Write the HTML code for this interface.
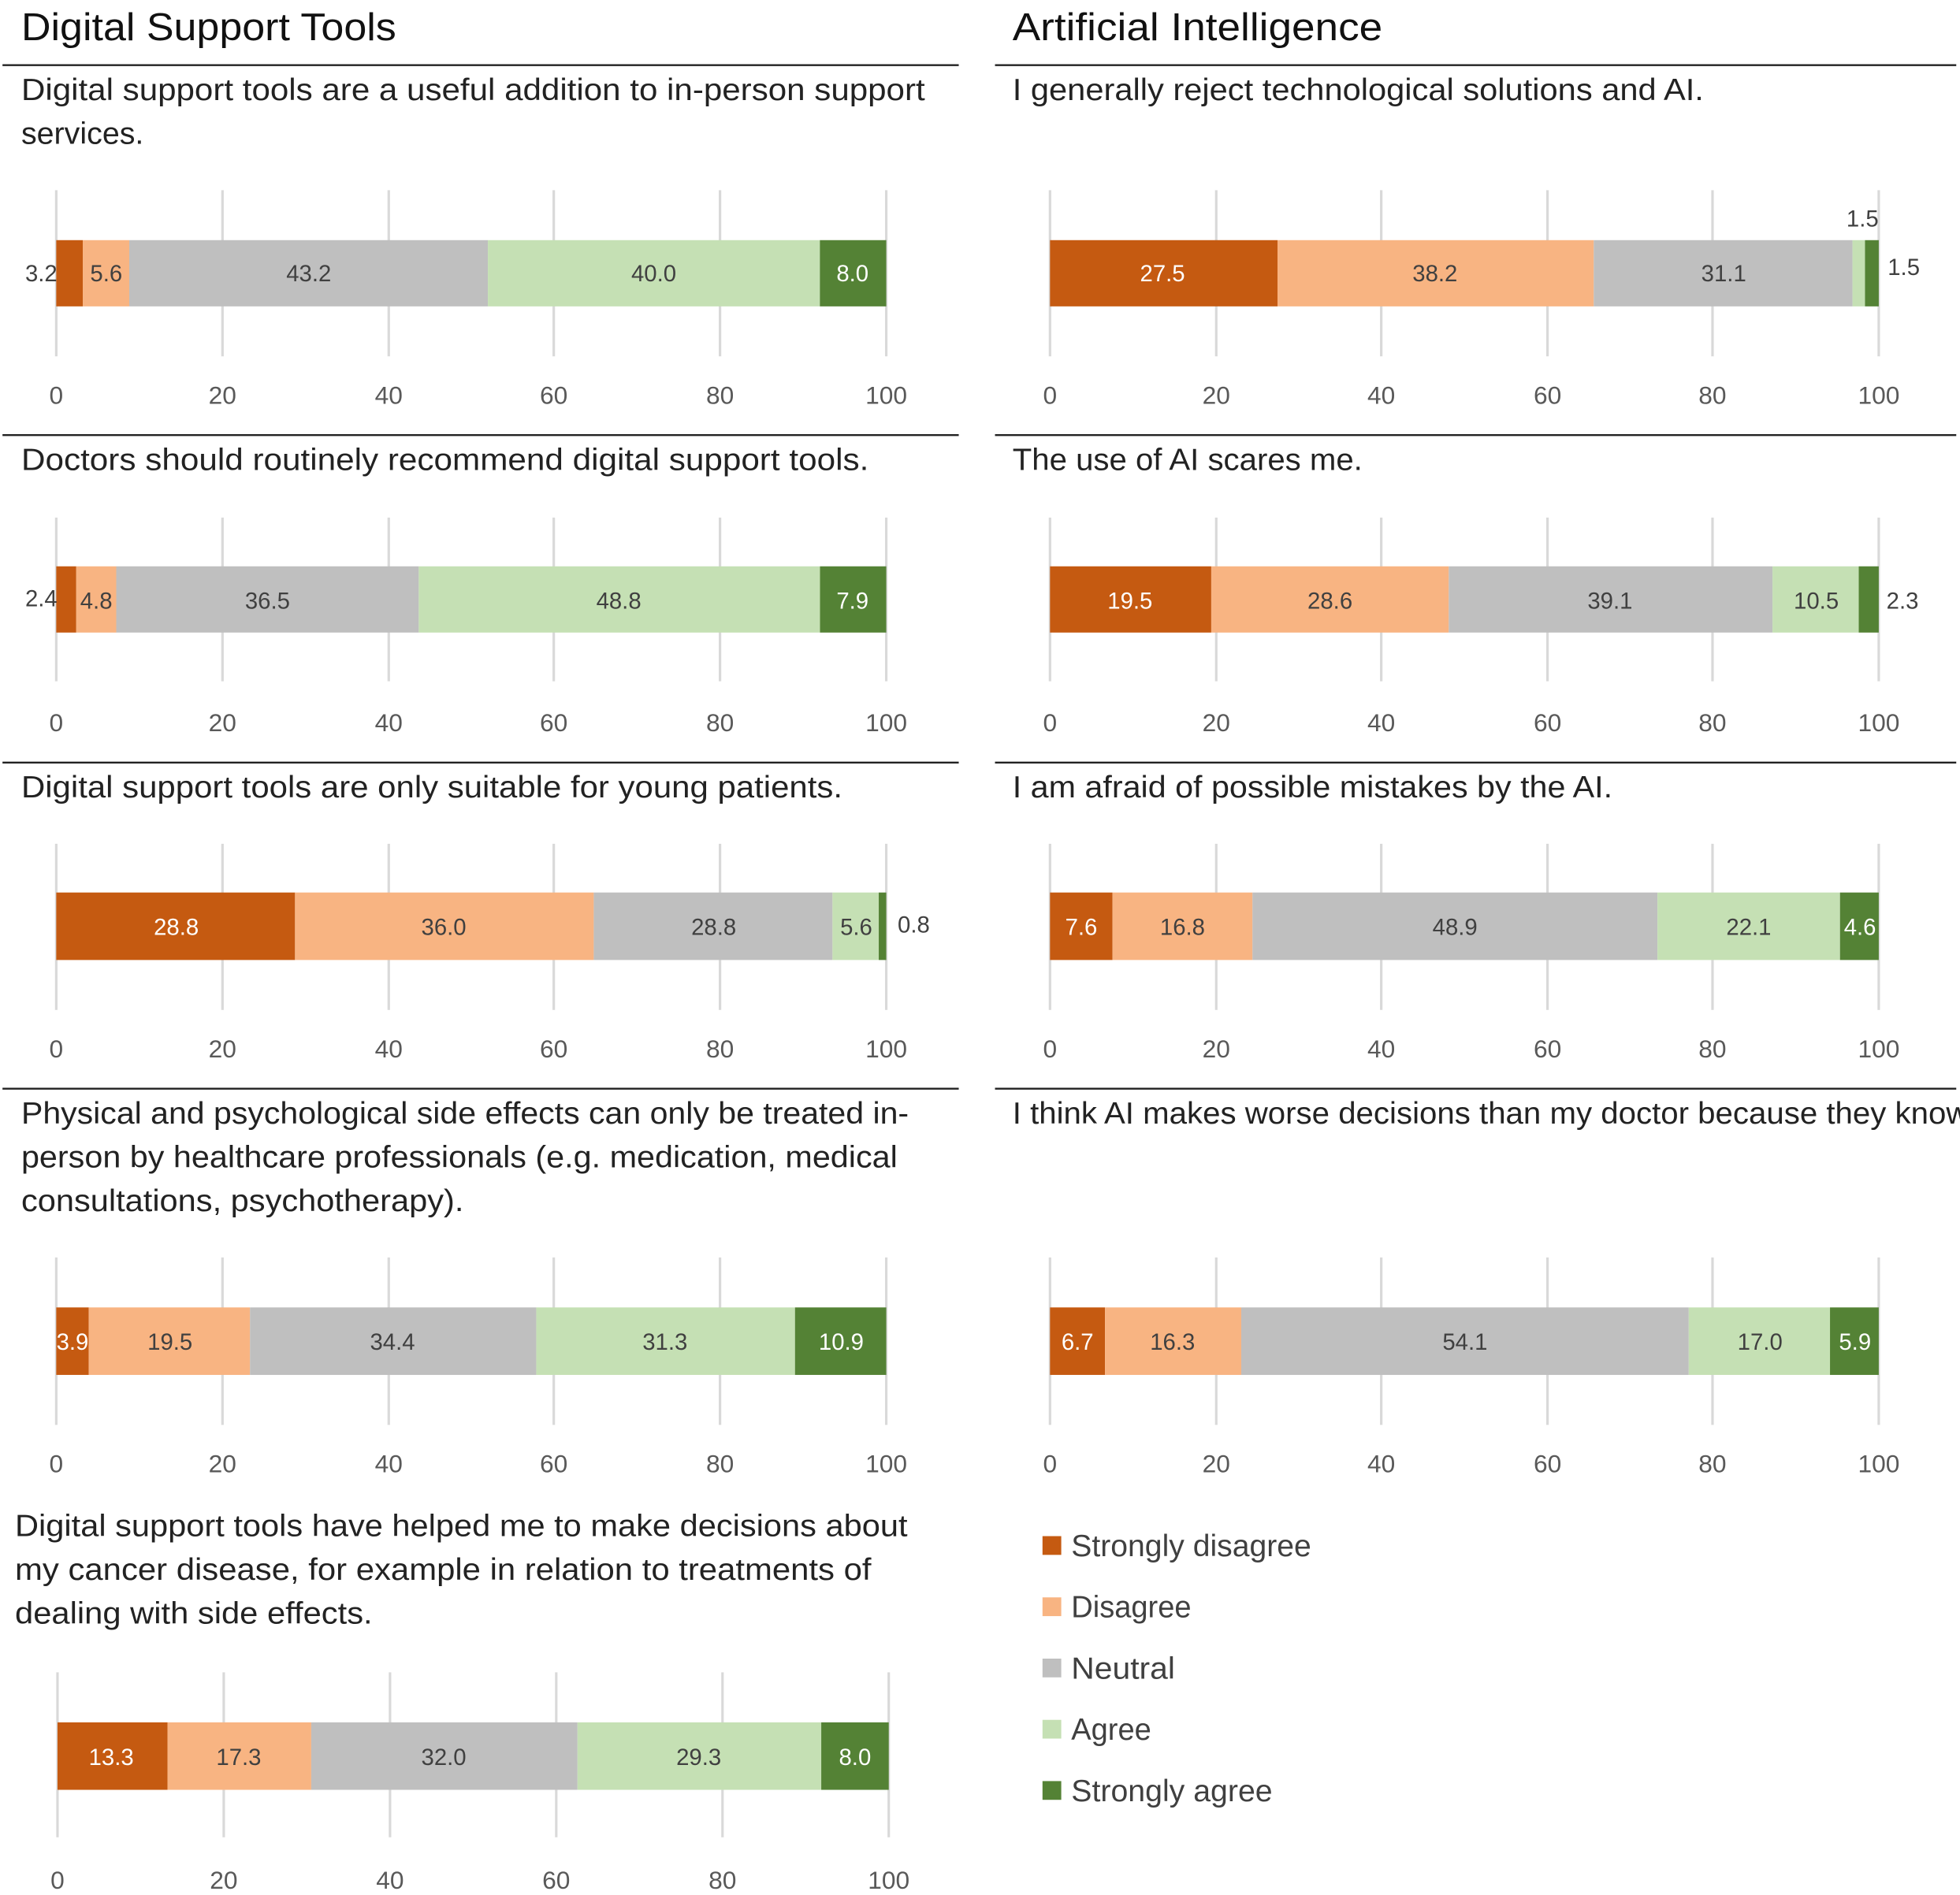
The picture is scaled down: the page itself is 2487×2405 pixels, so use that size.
<!DOCTYPE html>
<html><head><meta charset="utf-8"><style>
html,body{margin:0;padding:0;background:#fff;}
svg{display:block;}
text{font-family:"Liberation Sans",sans-serif;}
.t{font-size:31px;fill:#111;}
.q{font-size:24.5px;fill:#222;}
.k{font-size:20px;fill:#595959;text-anchor:middle;}
.l{font-size:18.5px;fill:#404040;text-anchor:middle;}
.w{font-size:18.5px;fill:#fff;text-anchor:middle;}
.g{stroke:#D9D9D9;stroke-width:2;}
.h{stroke:#222;stroke-width:1.5;}
.lg{font-size:24.5px;fill:#404040;}
</style></head><body>
<svg width="2487" height="2405" viewBox="0 0 1568 1516" xmlns="http://www.w3.org/2000/svg">
<rect width="1568" height="1516" fill="#fff"/>
<text class="t" x="17" y="32" textLength="300" lengthAdjust="spacingAndGlyphs">Digital Support Tools</text>
<text class="t" x="810" y="32" textLength="296" lengthAdjust="spacingAndGlyphs">Artificial Intelligence</text>
<g class="h">
<line x1="2" y1="52" x2="767" y2="52"/><line x1="796" y1="52" x2="1565" y2="52"/>
<line x1="2" y1="348" x2="767" y2="348"/><line x1="796" y1="348" x2="1565" y2="348"/>
<line x1="2" y1="610" x2="767" y2="610"/><line x1="796" y1="610" x2="1565" y2="610"/>
<line x1="2" y1="871" x2="767" y2="871"/><line x1="796" y1="871" x2="1565" y2="871"/>
</g>
<!-- questions -->
<text class="q" x="17" y="80" textLength="723" lengthAdjust="spacingAndGlyphs">Digital support tools are a useful addition to in-person support</text>
<text class="q" x="17" y="115" textLength="98" lengthAdjust="spacingAndGlyphs">services.</text>
<text class="q" x="17" y="376" textLength="678" lengthAdjust="spacingAndGlyphs">Doctors should routinely recommend digital support tools.</text>
<text class="q" x="17" y="638" textLength="657" lengthAdjust="spacingAndGlyphs">Digital support tools are only suitable for young patients.</text>
<text class="q" x="17" y="899" textLength="710" lengthAdjust="spacingAndGlyphs">Physical and psychological side effects can only be treated in-</text>
<text class="q" x="17" y="934" textLength="701" lengthAdjust="spacingAndGlyphs">person by healthcare professionals (e.g. medication, medical</text>
<text class="q" x="17" y="969" textLength="354" lengthAdjust="spacingAndGlyphs">consultations, psychotherapy).</text>
<text class="q" x="12" y="1229" textLength="714" lengthAdjust="spacingAndGlyphs">Digital support tools have helped me to make decisions about</text>
<text class="q" x="12" y="1264" textLength="685" lengthAdjust="spacingAndGlyphs">my cancer disease, for example in relation to treatments of</text>
<text class="q" x="12" y="1299" textLength="286" lengthAdjust="spacingAndGlyphs">dealing with side effects.</text>
<text class="q" x="810" y="80" textLength="553" lengthAdjust="spacingAndGlyphs">I generally reject technological solutions and AI.</text>
<text class="q" x="810" y="376" textLength="280" lengthAdjust="spacingAndGlyphs">The use of AI scares me.</text>
<text class="q" x="810" y="638" textLength="480" lengthAdjust="spacingAndGlyphs">I am afraid of possible mistakes by the AI.</text>
<text class="q" x="810" y="899" textLength="885" lengthAdjust="spacingAndGlyphs">I think AI makes worse decisions than my doctor because they know me better.</text>
<!-- gridlines -->
<g class="g">
<line x1="45" y1="152" x2="45" y2="285"/><line x1="178" y1="152" x2="178" y2="285"/><line x1="311" y1="152" x2="311" y2="285"/><line x1="443" y1="152" x2="443" y2="285"/><line x1="576" y1="152" x2="576" y2="285"/><line x1="709" y1="152" x2="709" y2="285"/>
<line x1="45" y1="414" x2="45" y2="545"/><line x1="178" y1="414" x2="178" y2="545"/><line x1="311" y1="414" x2="311" y2="545"/><line x1="443" y1="414" x2="443" y2="545"/><line x1="576" y1="414" x2="576" y2="545"/><line x1="709" y1="414" x2="709" y2="545"/>
<line x1="45" y1="675" x2="45" y2="808"/><line x1="178" y1="675" x2="178" y2="808"/><line x1="311" y1="675" x2="311" y2="808"/><line x1="443" y1="675" x2="443" y2="808"/><line x1="576" y1="675" x2="576" y2="808"/><line x1="709" y1="675" x2="709" y2="808"/>
<line x1="45" y1="1006" x2="45" y2="1140"/><line x1="178" y1="1006" x2="178" y2="1140"/><line x1="311" y1="1006" x2="311" y2="1140"/><line x1="443" y1="1006" x2="443" y2="1140"/><line x1="576" y1="1006" x2="576" y2="1140"/><line x1="709" y1="1006" x2="709" y2="1140"/>
<line x1="46" y1="1338" x2="46" y2="1470"/><line x1="179" y1="1338" x2="179" y2="1470"/><line x1="312" y1="1338" x2="312" y2="1470"/><line x1="445" y1="1338" x2="445" y2="1470"/><line x1="578" y1="1338" x2="578" y2="1470"/><line x1="711" y1="1338" x2="711" y2="1470"/>
<line x1="840" y1="152" x2="840" y2="285"/><line x1="973" y1="152" x2="973" y2="285"/><line x1="1105" y1="152" x2="1105" y2="285"/><line x1="1238" y1="152" x2="1238" y2="285"/><line x1="1370" y1="152" x2="1370" y2="285"/><line x1="1503" y1="152" x2="1503" y2="285"/>
<line x1="840" y1="414" x2="840" y2="545"/><line x1="973" y1="414" x2="973" y2="545"/><line x1="1105" y1="414" x2="1105" y2="545"/><line x1="1238" y1="414" x2="1238" y2="545"/><line x1="1370" y1="414" x2="1370" y2="545"/><line x1="1503" y1="414" x2="1503" y2="545"/>
<line x1="840" y1="675" x2="840" y2="808"/><line x1="973" y1="675" x2="973" y2="808"/><line x1="1105" y1="675" x2="1105" y2="808"/><line x1="1238" y1="675" x2="1238" y2="808"/><line x1="1370" y1="675" x2="1370" y2="808"/><line x1="1503" y1="675" x2="1503" y2="808"/>
<line x1="840" y1="1006" x2="840" y2="1140"/><line x1="973" y1="1006" x2="973" y2="1140"/><line x1="1105" y1="1006" x2="1105" y2="1140"/><line x1="1238" y1="1006" x2="1238" y2="1140"/><line x1="1370" y1="1006" x2="1370" y2="1140"/><line x1="1503" y1="1006" x2="1503" y2="1140"/>
</g>
<!-- tick labels -->
<g class="k">
<text x="45" y="323">0</text><text x="178" y="323">20</text><text x="311" y="323">40</text><text x="443" y="323">60</text><text x="576" y="323">80</text><text x="709" y="323">100</text>
<text x="45" y="585">0</text><text x="178" y="585">20</text><text x="311" y="585">40</text><text x="443" y="585">60</text><text x="576" y="585">80</text><text x="709" y="585">100</text>
<text x="45" y="846">0</text><text x="178" y="846">20</text><text x="311" y="846">40</text><text x="443" y="846">60</text><text x="576" y="846">80</text><text x="709" y="846">100</text>
<text x="45" y="1178">0</text><text x="178" y="1178">20</text><text x="311" y="1178">40</text><text x="443" y="1178">60</text><text x="576" y="1178">80</text><text x="709" y="1178">100</text>
<text x="46" y="1511">0</text><text x="179" y="1511">20</text><text x="312" y="1511">40</text><text x="445" y="1511">60</text><text x="578" y="1511">80</text><text x="711" y="1511">100</text>
<text x="840" y="323">0</text><text x="973" y="323">20</text><text x="1105" y="323">40</text><text x="1238" y="323">60</text><text x="1370" y="323">80</text><text x="1503" y="323">100</text>
<text x="840" y="585">0</text><text x="973" y="585">20</text><text x="1105" y="585">40</text><text x="1238" y="585">60</text><text x="1370" y="585">80</text><text x="1503" y="585">100</text>
<text x="840" y="846">0</text><text x="973" y="846">20</text><text x="1105" y="846">40</text><text x="1238" y="846">60</text><text x="1370" y="846">80</text><text x="1503" y="846">100</text>
<text x="840" y="1178">0</text><text x="973" y="1178">20</text><text x="1105" y="1178">40</text><text x="1238" y="1178">60</text><text x="1370" y="1178">80</text><text x="1503" y="1178">100</text>
</g>
<!-- L1 -->
<rect x="45" y="192" width="21.2" height="53" fill="#C55A11"/>
<rect x="66.2" y="192" width="37.2" height="53" fill="#F8B482"/>
<rect x="103.4" y="192" width="286.9" height="53" fill="#BFBFBF"/>
<rect x="390.3" y="192" width="265.6" height="53" fill="#C5E0B4"/>
<rect x="655.9" y="192" width="53.1" height="53" fill="#548235"/>
<text class="l" x="33" y="225">3.2</text><text class="l" x="85" y="225">5.6</text><text class="l" x="247" y="225">43.2</text><text class="l" x="523" y="225">40.0</text><text class="w" x="682" y="225">8.0</text>
<!-- L2 -->
<rect x="45" y="453" width="16" height="53" fill="#C55A11"/>
<rect x="61" y="453" width="32" height="53" fill="#F8B482"/>
<rect x="93" y="453" width="242" height="53" fill="#BFBFBF"/>
<rect x="335" y="453" width="321" height="53" fill="#C5E0B4"/>
<rect x="656" y="453" width="53" height="53" fill="#548235"/>
<text class="l" x="33" y="485">2.4</text><text class="l" x="77" y="487">4.8</text><text class="l" x="214" y="487">36.5</text><text class="l" x="495" y="487">48.8</text><text class="w" x="682" y="487">7.9</text>
<!-- L3 -->
<rect x="45" y="714" width="191" height="54" fill="#C55A11"/>
<rect x="236" y="714" width="239" height="54" fill="#F8B482"/>
<rect x="475" y="714" width="191" height="54" fill="#BFBFBF"/>
<rect x="666" y="714" width="37" height="54" fill="#C5E0B4"/>
<rect x="703" y="714" width="6" height="54" fill="#548235"/>
<text class="w" x="141" y="748">28.8</text><text class="l" x="355" y="748">36.0</text><text class="l" x="571" y="748">28.8</text><text class="l" x="685" y="748">5.6</text><text class="l" x="731" y="746">0.8</text>
<!-- L4 -->
<rect x="45" y="1046" width="26" height="54" fill="#C55A11"/>
<rect x="71" y="1046" width="129" height="54" fill="#F8B482"/>
<rect x="200" y="1046" width="229" height="54" fill="#BFBFBF"/>
<rect x="429" y="1046" width="207" height="54" fill="#C5E0B4"/>
<rect x="636" y="1046" width="73" height="54" fill="#548235"/>
<text class="w" x="58" y="1080">3.9</text><text class="l" x="136" y="1080">19.5</text><text class="l" x="314" y="1080">34.4</text><text class="l" x="532" y="1080">31.3</text><text class="w" x="673" y="1080">10.9</text>
<!-- L5 -->
<rect x="46" y="1378" width="88" height="54" fill="#C55A11"/>
<rect x="134" y="1378" width="115" height="54" fill="#F8B482"/>
<rect x="249" y="1378" width="213" height="54" fill="#BFBFBF"/>
<rect x="462" y="1378" width="195" height="54" fill="#C5E0B4"/>
<rect x="657" y="1378" width="54" height="54" fill="#548235"/>
<text class="w" x="89" y="1412">13.3</text><text class="l" x="191" y="1412">17.3</text><text class="l" x="355" y="1412">32.0</text><text class="l" x="559" y="1412">29.3</text><text class="w" x="684" y="1412">8.0</text>
<!-- R1 -->
<rect x="840" y="192" width="182" height="53" fill="#C55A11"/>
<rect x="1022" y="192" width="253" height="53" fill="#F8B482"/>
<rect x="1275" y="192" width="207" height="53" fill="#BFBFBF"/>
<rect x="1482" y="192" width="10" height="53" fill="#C5E0B4"/>
<rect x="1492" y="192" width="11" height="53" fill="#548235"/>
<text class="w" x="930" y="225">27.5</text><text class="l" x="1148" y="225">38.2</text><text class="l" x="1379" y="225">31.1</text><text class="l" x="1490" y="181">1.5</text><text class="l" x="1523" y="220">1.5</text>
<!-- R2 -->
<rect x="840" y="453" width="129" height="53" fill="#C55A11"/>
<rect x="969" y="453" width="190" height="53" fill="#F8B482"/>
<rect x="1159" y="453" width="259" height="53" fill="#BFBFBF"/>
<rect x="1418" y="453" width="69" height="53" fill="#C5E0B4"/>
<rect x="1487" y="453" width="16" height="53" fill="#548235"/>
<text class="w" x="904" y="487">19.5</text><text class="l" x="1064" y="487">28.6</text><text class="l" x="1288" y="487">39.1</text><text class="l" x="1453" y="487">10.5</text><text class="l" x="1522" y="487">2.3</text>
<!-- R3 -->
<rect x="840" y="714" width="50" height="54" fill="#C55A11"/>
<rect x="890" y="714" width="112" height="54" fill="#F8B482"/>
<rect x="1002" y="714" width="324" height="54" fill="#BFBFBF"/>
<rect x="1326" y="714" width="146" height="54" fill="#C5E0B4"/>
<rect x="1472" y="714" width="31" height="54" fill="#548235"/>
<text class="w" x="865" y="748">7.6</text><text class="l" x="946" y="748">16.8</text><text class="l" x="1164" y="748">48.9</text><text class="l" x="1399" y="748">22.1</text><text class="w" x="1488" y="748">4.6</text>
<!-- R4 -->
<rect x="840" y="1046" width="44" height="54" fill="#C55A11"/>
<rect x="884" y="1046" width="109" height="54" fill="#F8B482"/>
<rect x="993" y="1046" width="358" height="54" fill="#BFBFBF"/>
<rect x="1351" y="1046" width="113" height="54" fill="#C5E0B4"/>
<rect x="1464" y="1046" width="39" height="54" fill="#548235"/>
<text class="w" x="862" y="1080">6.7</text><text class="l" x="938" y="1080">16.3</text><text class="l" x="1172" y="1080">54.1</text><text class="l" x="1408" y="1080">17.0</text><text class="w" x="1484" y="1080">5.9</text>
<!-- legend -->
<rect x="834" y="1229" width="15" height="15" fill="#C55A11"/><text class="lg" x="857" y="1245" textLength="192" lengthAdjust="spacingAndGlyphs">Strongly disagree</text>
<rect x="834" y="1278" width="15" height="15" fill="#F8B482"/><text class="lg" x="857" y="1294" textLength="96" lengthAdjust="spacingAndGlyphs">Disagree</text>
<rect x="834" y="1327" width="15" height="15" fill="#BFBFBF"/><text class="lg" x="857" y="1343" textLength="83" lengthAdjust="spacingAndGlyphs">Neutral</text>
<rect x="834" y="1376" width="15" height="15" fill="#C5E0B4"/><text class="lg" x="857" y="1392" textLength="64" lengthAdjust="spacingAndGlyphs">Agree</text>
<rect x="834" y="1425" width="15" height="15" fill="#548235"/><text class="lg" x="857" y="1441" textLength="161" lengthAdjust="spacingAndGlyphs">Strongly agree</text>
</svg>
</body></html>
